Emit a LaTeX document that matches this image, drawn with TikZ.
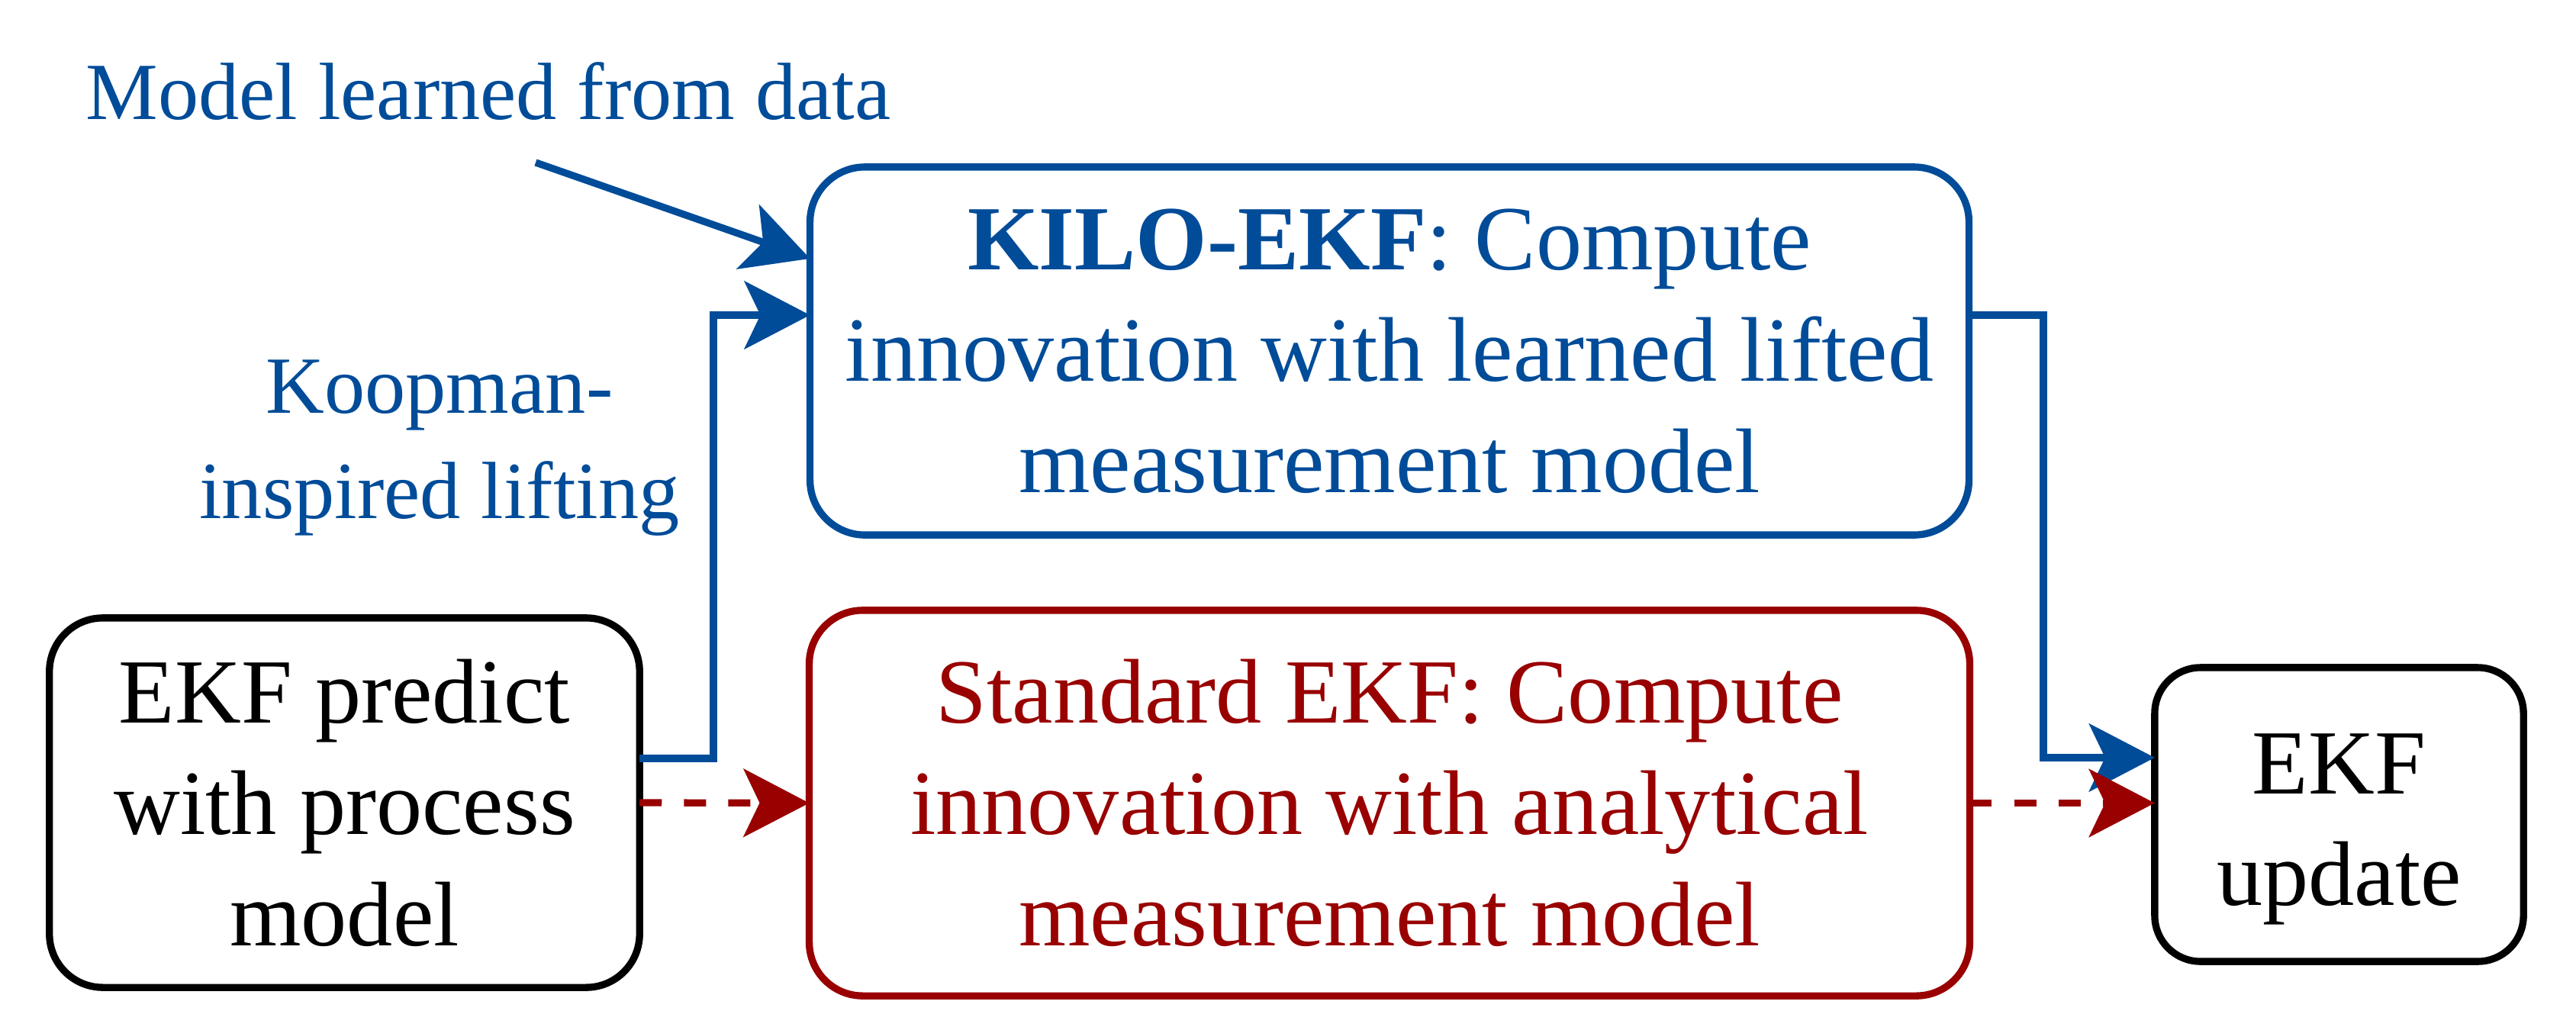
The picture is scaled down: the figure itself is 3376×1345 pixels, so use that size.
\documentclass[tikz,border=0pt]{standalone}
\usepackage{fontspec}
\setmainfont{Liberation Serif}
\usetikzlibrary{arrows.meta}
\definecolor{kblue}{RGB}{0,76,153}
\definecolor{kred}{RGB}{153,0,0}
\begin{document}
\begin{tikzpicture}[x=0.01cm,y=-0.01cm,
  box/.style={draw, line width=2.65pt, rounded corners=0.7cm, align=center, inner sep=0pt, outer sep=0pt,
    font=\fontsize{34.2}{41.5}\selectfont},
  lbl/.style={text=kblue, align=center, inner sep=0pt, font=\fontsize{30.25}{39}\selectfont},
  conn/.style={line width=2.65pt, -{Stealth[length=0.86cm,width=0.89cm,inset=0.21cm]}},
  dashconn/.style={conn, dash pattern=on 0.29cm off 0.29cm}
]
\useasboundingbox (0,0) rectangle (3376,1345);

\node[box, draw=black, minimum width=7.73cm, minimum height=4.84cm] (predict) at (451.5,1052)
  {EKF predict\\with process\\model};
\node[box, draw=kblue, text=kblue, minimum width=15.18cm, minimum height=4.82cm, rounded corners=0.72cm] (kilo) at (1821,460)
  {\textbf{KILO-EKF}: Compute\\innovation with learned lifted\\measurement model};
\node[box, draw=kred, text=kred, minimum width=15.2cm, minimum height=5.05cm] (std) at (1821,1052.5)
  {Standard EKF: Compute\\innovation with analytical\\measurement model};
\node[box, draw=black, minimum width=4.83cm, minimum height=3.85cm, rounded corners=0.6cm] (update) at (3065.5,1067.5)
  {\rule{0pt}{1.17cm}EKF\\update};

\node[lbl, anchor=base] (mlab) at (640,156) {Model learned from data};
\node[lbl, anchor=base] (klab) at (576,679) {Koopman-\\inspired lifting};

\coordinate (mstart) at (702,213);
\coordinate (liftx) at (935,700);
\coordinate (upx) at (2678,700);

\draw[conn, kblue] (mstart) -- ([yshift=-1.2cm]kilo.north west);
\draw[conn, kblue] ([yshift=0.58cm]predict.east) -| (liftx) |- ([yshift=0.47cm]kilo.west);
\draw[conn, kblue] ([yshift=0.47cm]kilo.east) -| (upx) |- ([yshift=0.745cm]update.west);
\draw[dashconn, kred] (predict.east) -- (std.west);
\draw[dashconn, kred] (std.east) -- (std.east -| update.west);
\end{tikzpicture}
\end{document}
